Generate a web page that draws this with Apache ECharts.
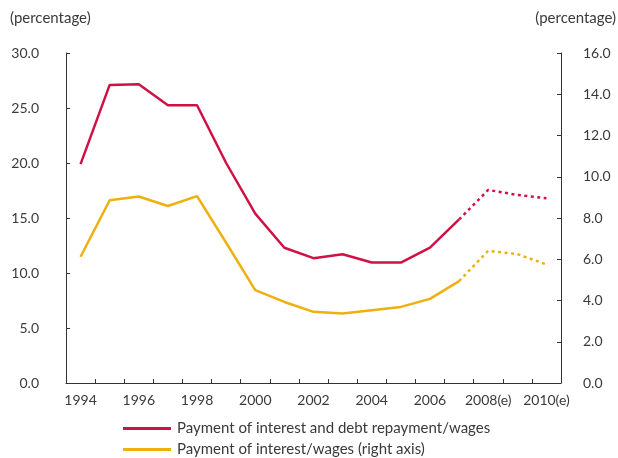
<!DOCTYPE html>
<html><head><meta charset="utf-8">
<script src="https://cdn.jsdelivr.net/npm/echarts@6/dist/echarts.min.js"></script>
<style>html,body{margin:0;padding:0;background:#fff}#c{width:618px;height:458px}</style>
</head><body><div id="c"></div>
<script>
const categories = ['1994','1995','1996','1997','1998','1999','2000','2001','2002','2003','2004','2005','2006','2007','2008(e)','2009(e)','2010(e)'];
// Payment of interest and debt repayment/wages (left axis)
const debtActual = [19.9,27.1,27.15,25.25,25.25,20.0,15.4,12.3,11.35,11.7,10.95,10.95,12.3,14.87,null,null,null];
const debtEstimate = [null,null,null,null,null,null,null,null,null,null,null,null,null,14.87,17.55,17.1,16.8];
// Payment of interest/wages (right axis)
const intActual = [6.12,8.86,9.04,8.58,9.06,6.8,4.5,3.93,3.45,3.37,3.53,3.69,4.08,4.94,null,null,null];
const intEstimate = [null,null,null,null,null,null,null,null,null,null,null,null,null,4.94,6.41,6.25,5.75];
const leftTicks = {min:0,max:30,interval:5};
const rightTicks = {min:0,max:16,interval:2};
const names = ['Payment of interest and debt repayment/wages','Payment of interest/wages (right axis)'];

const RED = '#cf1246', YEL = '#edb00f', TXT = '#3a3a3a', AX = '#333';
const FONT = 'Lato';
const chart = echarts.init(document.getElementById('c'), null, {renderer:'canvas'});
const axisCommon = {
  axisLine:{show:true,lineStyle:{color:AX,width:1}},
  axisTick:{show:true,inside:true,length:4,lineStyle:{color:AX}},
  splitLine:{show:false},
};
const legendCommon = {orient:'horizontal',left:123,itemWidth:48,itemHeight:3,itemGap:7,icon:'rect',padding:0,
  textStyle:{fontSize:15,color:TXT,fontFamily:FONT,padding:[0,0,0,1]}};
chart.setOption({
  animation:false,
  textStyle:{fontFamily:FONT},
  graphic:[
    {type:'text',left:10,top:11,style:{text:'(percentage)',font:'15px '+FONT,fill:TXT}},
    {type:'text',right:2,top:11,style:{text:'(percentage)',font:'15px '+FONT,fill:TXT}}
  ],
  grid:{left:66,right:57,top:53,bottom:75},
  legend:[
    Object.assign({top:421,data:[names[0]]},legendCommon),
    Object.assign({top:442,data:[names[1]]},legendCommon)
  ],
  xAxis:{type:'category',data:categories,boundaryGap:true,
    axisLine:{show:true,lineStyle:{color:AX}},
    axisTick:{show:true,inside:true,length:4,alignWithLabel:false,interval:0,lineStyle:{color:AX}},
    axisLabel:{interval:1,margin:10,fontSize:14,color:TXT,fontFamily:FONT}},
  yAxis:[
    Object.assign({type:'value',position:'left',min:leftTicks.min,max:leftTicks.max,interval:leftTicks.interval,
      axisLabel:{margin:27,fontSize:14,color:TXT,fontFamily:FONT,formatter:v=>v.toFixed(1)}},axisCommon),
    Object.assign({type:'value',position:'right',min:rightTicks.min,max:rightTicks.max,interval:rightTicks.interval,
      axisLabel:{margin:22,fontSize:14,color:TXT,fontFamily:FONT,formatter:v=>v.toFixed(1)}},axisCommon)
  ],
  series:[
    {name:names[0],type:'line',yAxisIndex:0,data:debtActual,symbol:'none',color:RED,lineStyle:{color:RED,width:2.5},z:3},
    {name:'debtEst',type:'line',yAxisIndex:0,data:debtEstimate,symbol:'none',color:RED,lineStyle:{color:RED,width:2.5,type:[3,3.5]},z:3},
    {name:names[1],type:'line',yAxisIndex:1,data:intActual,symbol:'none',color:YEL,lineStyle:{color:YEL,width:2.5},z:2},
    {name:'intEst',type:'line',yAxisIndex:1,data:intEstimate,symbol:'none',color:YEL,lineStyle:{color:YEL,width:2.5,type:[3,3.5]},z:2}
  ]
});
</script></body></html>
